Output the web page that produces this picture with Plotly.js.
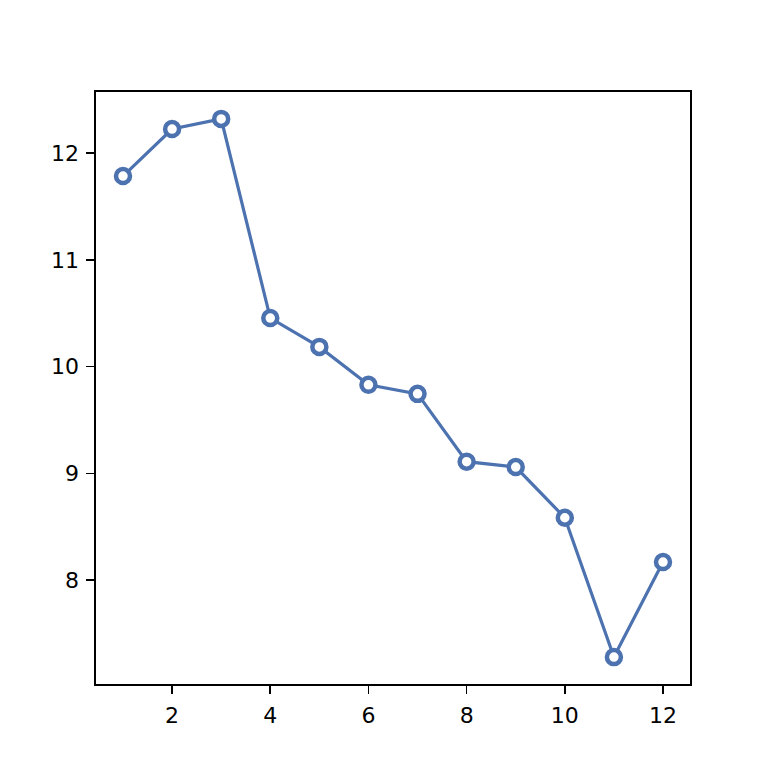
<!DOCTYPE html>
<html>
<head>
<meta charset="utf-8">
<script src="https://cdn.plot.ly/plotly-3.0.1.min.js"></script>
<style>
  html, body { margin: 0; padding: 0; background: #fff; }
  #chart { width: 768px; height: 768px; }
</style>
</head>
<body>
<div id="chart"></div>
<script>
// series values
const xs = [1, 2, 3, 4, 5, 6, 7, 8, 9, 10, 11, 12];
const ys = [11.785, 12.225, 12.32, 10.455, 10.185, 9.83, 9.745, 9.11, 9.06, 8.585, 7.28, 8.17];

const xTicks = [2, 4, 6, 8, 10, 12];
const yTicks = [8, 9, 10, 11, 12];

const blue = '#4C72B0';

const trace = {
    x: xs,
    y: ys,
    mode: 'lines+markers',
    type: 'scatter',
    line: { color: blue, width: 3.2 },
    marker: {
        symbol: 'circle',
        size: 14,
        color: '#ffffff',
        line: { color: blue, width: 4.5 }
    },
    hoverinfo: 'skip'
};

const axisStyle = {
    showgrid: false,
    zeroline: false,
    showline: true,
    linecolor: 'black',
    linewidth: 1.6,
    mirror: true,
    ticks: 'outside',
    ticklen: 8,
    tickwidth: 1.6,
    tickcolor: 'black',
    ticklabelstandoff: 3,
    tickfont: { family: 'DejaVu Sans', size: 22, color: 'black' }
};

const layout = {
    width: 768,
    height: 768,
    showlegend: false,
    paper_bgcolor: '#ffffff',
    plot_bgcolor: '#ffffff',
    margin: { l: 96, r: 78, t: 92, b: 84 },
    xaxis: Object.assign({}, axisStyle, {
        range: [0.45, 12.55],
        tickmode: 'array',
        tickvals: xTicks,
        ticktext: xTicks.map(String)
    }),
    yaxis: Object.assign({}, axisStyle, {
        range: [7.028, 12.572],
        tickmode: 'array',
        tickvals: yTicks,
        ticktext: yTicks.map(String)
    })
};

Plotly.newPlot('chart', [trace], layout, { displayModeBar: false, staticPlot: true });
</script>
</body>
</html>
